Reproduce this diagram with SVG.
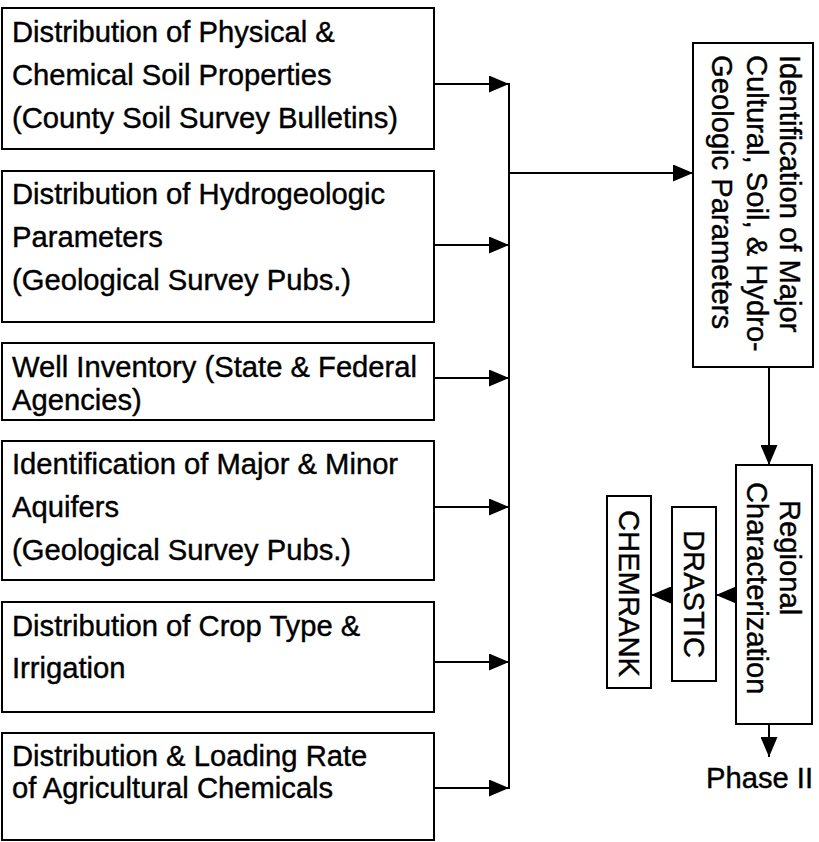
<svg xmlns="http://www.w3.org/2000/svg" width="819" height="842" viewBox="0 0 819 842">
<defs>
<marker id="ah" viewBox="0 0 20 17" refX="20" refY="8.5" markerWidth="20" markerHeight="17" markerUnits="userSpaceOnUse" orient="auto">
<path d="M0,0 L20,8.5 L0,17 z" fill="#000"/>
</marker>
<style>
.box{fill:#fff;stroke:#000;stroke-width:2}
.t{font-family:"Liberation Sans",Arial,Helvetica,sans-serif;font-size:29.2px;fill:#000;stroke:#000;stroke-width:0.4}
.c{fill:none;stroke:#000;stroke-width:2}
.a{fill:none;stroke:#000;stroke-width:2;marker-end:url(#ah)}
</style>
</defs>
<rect width="819" height="842" fill="#fff"/>
<g id="connectors">
<line class="a" x1="434" y1="84" x2="509" y2="84"/>
<line class="a" x1="434" y1="245" x2="509" y2="245"/>
<line class="a" x1="434" y1="378" x2="509" y2="378"/>
<line class="a" x1="434" y1="507" x2="509" y2="507"/>
<line class="a" x1="434" y1="662" x2="509" y2="662"/>
<line class="a" x1="434" y1="788" x2="509" y2="788"/>
<line class="c" x1="509" y1="83" x2="509" y2="789"/>
<line class="a" x1="509" y1="173" x2="693" y2="173"/>
<line class="a" x1="769" y1="367" x2="769" y2="465"/>
<line class="a" x1="769" y1="724" x2="769" y2="757"/>
<line class="a" x1="736" y1="595" x2="716" y2="595"/>
<line class="a" x1="672" y1="595" x2="651" y2="595"/>
</g>
<g id="n1">
<rect class="box" x="2" y="8" width="432" height="141"/>
<text class="t" x="12" y="42">Distribution of Physical &amp;</text>
<text class="t" x="12" y="85">Chemical Soil Properties</text>
<text class="t" x="12" y="128">(County Soil Survey Bulletins)</text>
</g>
<g id="n2">
<rect class="box" x="2" y="171" width="432" height="151"/>
<text class="t" x="12" y="204">Distribution of Hydrogeologic</text>
<text class="t" x="12" y="247">Parameters</text>
<text class="t" x="12" y="290">(Geological Survey Pubs.)</text>
</g>
<g id="n3">
<rect class="box" x="2" y="343" width="432" height="77"/>
<text class="t" x="12" y="377">Well Inventory (State &amp; Federal</text>
<text class="t" x="12" y="410">Agencies)</text>
</g>
<g id="n4">
<rect class="box" x="2" y="441" width="432" height="139"/>
<text class="t" x="12" y="474">Identification of Major &amp; Minor</text>
<text class="t" x="12" y="517">Aquifers</text>
<text class="t" x="12" y="560">(Geological Survey Pubs.)</text>
</g>
<g id="n5">
<rect class="box" x="2" y="602" width="432" height="110"/>
<text class="t" x="12" y="636">Distribution of Crop Type &amp;</text>
<text class="t" x="12" y="678">Irrigation</text>
</g>
<g id="n6">
<rect class="box" x="2" y="733" width="432" height="107"/>
<text class="t" x="12" y="766">Distribution &amp; Loading Rate</text>
<text class="t" x="12" y="798">of Agricultural Chemicals</text>
</g>
<g id="n7">
<rect class="box" x="693" y="43" width="120" height="324"/>
<text class="t" transform="translate(780,55) rotate(90)">Identification of Major</text>
<text class="t" transform="translate(747,55) rotate(90)">Cultural, Soil, &amp; Hydro-</text>
<text class="t" transform="translate(712,55) rotate(90)">Geologic Parameters</text>
</g>
<g id="n8">
<rect class="box" x="736" y="465" width="76" height="259"/>
<text class="t" transform="translate(780,500) rotate(90)">Regional</text>
<text class="t" transform="translate(747,482) rotate(90)">Characterization</text>
</g>
<g id="n9">
<rect class="box" x="672" y="507" width="44" height="174"/>
<text class="t" transform="translate(684,530) rotate(90)">DRASTIC</text>
</g>
<g id="n10">
<rect class="box" x="607" y="496" width="44" height="192"/>
<text class="t" transform="translate(619,510) rotate(90)">CHEMRANK</text>
</g>
<g id="n11">
<text class="t" x="706" y="788">Phase II</text>
</g>
</svg>
